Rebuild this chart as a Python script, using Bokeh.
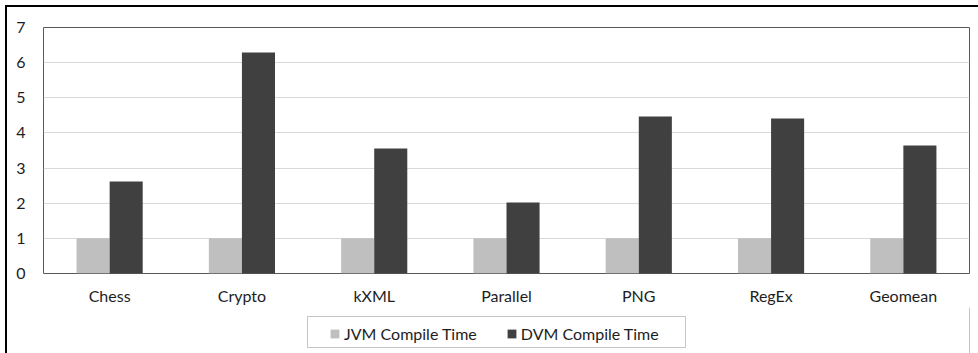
from bokeh.plotting import figure
from bokeh.models import (FactorRange, Legend, LegendItem, ColumnDataSource, SingleIntervalTicker,
                          Range1d, BoxAnnotation)
from bokeh.layouts import column
from bokeh.transform import dodge
from bokeh.embed import file_html
from bokeh.resources import INLINE

categories = ["Chess", "Crypto", "kXML", "Parallel", "PNG", "RegEx", "Geomean"]
jvm_compile = [1, 1, 1, 1, 1, 1, 1]
dvm_compile = [2.62, 6.29, 3.56, 2.02, 4.47, 4.41, 3.64]
series_names = ["JVM Compile Time", "DVM Compile Time"]
colors = ["#bfbfbf", "#404040"]

src = ColumnDataSource(data=dict(cat=categories, jvm=jvm_compile, dvm=dvm_compile))

FONT = "Lato"
TXT = "#1e1e1e"
FS = "16px"

p = figure(x_range=FactorRange(factors=categories, range_padding=0), y_range=(0, 7),
           width=971, height=300, output_backend="svg", toolbar_location=None,
           min_border_left=36, min_border_top=20, min_border_right=9, min_border_bottom=24)

p.vbar(x=dodge("cat", -0.125, range=p.x_range), top="jvm", width=0.25, source=src,
       fill_color=colors[0], line_color=None)
p.vbar(x=dodge("cat", 0.125, range=p.x_range), top="dvm", width=0.25, source=src,
       fill_color=colors[1], line_color=None)

p.outline_line_color = "#595959"
p.outline_line_width = 1
p.xgrid.grid_line_color = None
p.ygrid.grid_line_color = "#d9d9d9"
p.ygrid.grid_line_width = 1

p.yaxis.ticker = SingleIntervalTicker(interval=1)
for ax in (p.xaxis, p.yaxis):
    ax.axis_line_color = None
    ax.major_tick_line_color = None
    ax.minor_tick_line_color = None
    ax.major_label_text_font = FONT
    ax.major_label_text_font_size = FS
    ax.major_label_text_color = TXT
p.yaxis.major_label_standoff = 12
p.xaxis.major_label_standoff = 6

# legend strip (its frame is aligned with the main frame by the column layout)
lg = figure(width=971, height=46, output_backend="svg", toolbar_location=None,
            x_range=Range1d(0, 1), y_range=Range1d(0, 1),
            min_border=0, min_border_left=36, min_border_right=9, min_border_top=0, min_border_bottom=0)
lg.axis.visible = False
lg.grid.visible = False
lg.outline_line_color = None
offscreen = ColumnDataSource(data=dict(x=[5], top=[5]))
g1 = lg.vbar(x="x", top="top", width=0.1, source=offscreen, fill_color=colors[0], line_color=None)
g2 = lg.vbar(x="x", top="top", width=0.1, source=offscreen, fill_color=colors[1], line_color=None)

lg.add_layout(BoxAnnotation(left=264, right=642, top=37, bottom=6,
                            left_units="screen", right_units="screen",
                            top_units="screen", bottom_units="screen",
                            fill_color=None, line_color="#404040", line_width=1))

legend = Legend(items=[LegendItem(label=series_names[0], renderers=[g1]),
                       LegendItem(label=series_names[1], renderers=[g2])],
                orientation="horizontal", location=(286, 10),
                label_text_font=FONT, label_text_font_size=FS, label_text_color=TXT,
                glyph_width=11, glyph_height=11, spacing=29, padding=6, margin=0,
                border_line_color=None, background_fill_color=None,
                label_standoff=4, label_height=18)
lg.add_layout(legend, "center")

layout = column(p, lg, spacing=0,
                styles={"border-top": "2px solid #000000", "border-left": "2px solid #000000",
                        "margin-left": "5px", "margin-top": "5px"})

open("out.html", "w").write(file_html(layout, INLINE))
